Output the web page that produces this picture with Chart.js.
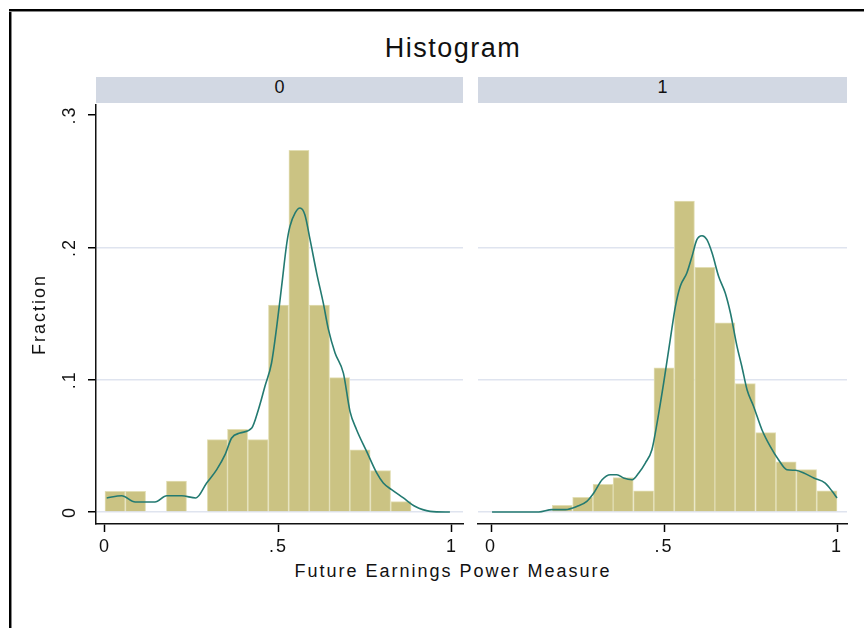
<!DOCTYPE html>
<html>
<meta charset="UTF-8">
<title>Histogram</title>
<style type="text/css">
	html,
	body {
		margin: 0px;
		width: 864px;
		height: 628px;
		background: #ffffff;
		overflow: hidden;
		font-family: "Liberation Sans", Arial, sans-serif;
		color: #111;
	}

	.frameL {
		position: absolute;
		left: 9px;
		top: 9px;
		width: 2px;
		height: 640px;
		background: #000;
		box-shadow: 1px 0 0 #888;
	}

	.frameT {
		position: absolute;
		left: 9px;
		top: 9px;
		width: 880px;
		height: 2px;
		background: #000;
		box-shadow: 0 1px 0 #888;
	}

	.title {
		position: absolute;
		left: 0px;
		width: 906px;
		top: 35px;
		font-size: 27px;
		line-height: 27px;
		letter-spacing: 1.5px;
		text-align: center;
	}

	.strip {
		position: absolute;
		top: 77px;
		height: 26px;
		background: #d2d8e3;
		font-size: 18px;
		line-height: 18px;
		text-align: center;
		box-sizing: border-box;
		padding-top: 1px;
	}

	.xtitle {
		position: absolute;
		left: 0px;
		width: 906px;
		top: 562px;
		font-size: 18px;
		line-height: 18px;
		letter-spacing: 2px;
		text-align: center;
	}

	canvas {
		position: absolute;
		top: 0px;
	}
</style>
<script src="https://cdn.jsdelivr.net/npm/chart.js"></script>

<body>
	<div class="frameL"></div>
	<div class="frameT"></div>
	<div class="title">Histogram</div>
	<div class="strip" style="left:96px;width:367px;">0</div>
	<div class="strip" style="left:478px;width:369px;">1</div>
	<div class="xtitle">Future Earnings Power Measure</div>

	<canvas id="left" width="470" height="628" style="left:0px"></canvas>
	<canvas id="right" width="394" height="628" style="left:470px"></canvas>

	<script>
		// panel labels
		var panels = ['0', '1'];

		// bin midpoints (bin width 1/17)
		var leftBins = [0.029, 0.088, 0.147, 0.206, 0.265, 0.324, 0.382, 0.441, 0.5, 0.559, 0.618, 0.676, 0.735, 0.794, 0.853];
		var leftFraction = [0.0156, 0.0156, 0, 0.0234, 0, 0.0547, 0.0625, 0.0547, 0.1563, 0.2734, 0.1563, 0.1016, 0.0469, 0.0313, 0.0078];

		var rightBins = [0.206, 0.265, 0.324, 0.382, 0.441, 0.5, 0.559, 0.618, 0.676, 0.735, 0.794, 0.853, 0.912, 0.971];
		var rightFraction = [0.005, 0.011, 0.021, 0.026, 0.016, 0.109, 0.235, 0.185, 0.143, 0.097, 0.06, 0.038, 0.032, 0.016];

		// kernel density curves
		var leftKdeX = [0.005, 0.048, 0.087, 0.144, 0.178, 0.221, 0.262, 0.293, 0.322, 0.346, 0.365, 0.389, 0.423, 0.442, 0.461, 0.48, 0.495, 0.509, 0.524, 0.533, 0.548, 0.562, 0.576, 0.591, 0.61, 0.629, 0.644, 0.663, 0.687, 0.706, 0.725, 0.754, 0.783, 0.802, 0.826, 0.86, 0.893, 0.937, 0.994];
		var leftKdeY = [0.0106, 0.0123, 0.0076, 0.0076, 0.0123, 0.0123, 0.0106, 0.0219, 0.032, 0.0433, 0.0559, 0.0597, 0.0635, 0.0773, 0.095, 0.1126, 0.1403, 0.1705, 0.2033, 0.2159, 0.226, 0.2297, 0.2247, 0.2058, 0.1806, 0.158, 0.1378, 0.1202, 0.105, 0.0761, 0.0622, 0.0458, 0.0295, 0.0219, 0.0169, 0.0106, 0.0043, 0.0005, 0];

		var rightKdeX = [0.003, 0.138, 0.176, 0.215, 0.249, 0.277, 0.297, 0.321, 0.345, 0.364, 0.383, 0.408, 0.427, 0.446, 0.465, 0.48, 0.499, 0.518, 0.533, 0.547, 0.566, 0.581, 0.595, 0.61, 0.624, 0.639, 0.658, 0.677, 0.692, 0.711, 0.725, 0.74, 0.759, 0.783, 0.807, 0.831, 0.855, 0.88, 0.904, 0.933, 0.966, 0.986, 1.0];
		var rightKdeY = [0, 0, 0.0018, 0.0018, 0.0043, 0.0081, 0.0144, 0.0244, 0.0282, 0.0282, 0.0257, 0.0244, 0.0295, 0.037, 0.0471, 0.0673, 0.0975, 0.1302, 0.1554, 0.1706, 0.1806, 0.1932, 0.2058, 0.2088, 0.2058, 0.1957, 0.178, 0.1655, 0.1504, 0.1252, 0.11, 0.0924, 0.0798, 0.0622, 0.0496, 0.0395, 0.032, 0.0315, 0.0295, 0.0257, 0.0219, 0.0156, 0.0106];

		var xTicks = [0, 0.5, 1];
		var xTickLabels = ['0', '.5', '1'];
		var yTicks = [0, 0.1, 0.2, 0.3];
		var yTickLabels = ['0', '.1', '.2', '.3'];
		var yTitle = 'Fraction';

		var barFill = '#cbc383';
		var barEdge = '#e2deb4';
		var kdeColor = '#237a71';
		var gridColor = '#dfe4ef';
		var fontFam = '"Liberation Sans", Arial, sans-serif';

		Chart.defaults.font.family = fontFam;
		Chart.defaults.color = '#111';

		var spacing = {
			id: 'spacing',
			beforeDraw: function (chart) {
				chart.ctx.letterSpacing = '2px';
			}
		};

		function pts(xs, ys) {
			var out = [];
			for (var i = 0; i < xs.length; i++) {
				out.push({ x: xs[i], y: ys[i] });
			}
			return out;
		}

		function makePanel(id, bins, fracs, kx, ky, showY, pad, xmin, xmax) {
			var yScale = {
				type: 'linear',
				min: -0.00907,
				max: 0.3076,
				afterBuildTicks: function (s) {
					s.ticks = yTicks.map(function (v) { return { value: v }; });
				},
				afterFit: function (s) {
					s.width = showY ? 96 : 0;
				},
				grid: {
					drawOnChartArea: true,
					drawTicks: showY,
					tickLength: 8,
					tickColor: '#000',
					tickWidth: 1.5,
					color: function (c) {
						return (c.tick && c.tick.value > 0.25) ? 'rgba(0,0,0,0)' : gridColor;
					},
					lineWidth: 1.5
				},
				border: { display: showY, color: '#111', width: 1.5 },
				ticks: {
					display: showY,
					minRotation: 90,
					maxRotation: 90,
					crossAlign: 'center',
					padding: 10,
					font: { size: 18 },
					color: '#111',
					callback: function (v, i) { return yTickLabels[i]; }
				},
				title: {
					display: showY,
					text: yTitle,
					font: { size: 18 },
					color: '#111',
					padding: { top: 29, bottom: 0 }
				}
			};

			return new Chart(document.getElementById(id), {
				data: {
					datasets: [
						{
							type: 'bar',
							data: pts(bins, fracs),
							backgroundColor: barFill,
							borderColor: barEdge,
							borderWidth: 1,
							categoryPercentage: 1,
							barPercentage: 1,
							order: 2
						},
						{
							type: 'line',
							data: pts(kx, ky),
							borderColor: kdeColor,
							borderWidth: 1.6,
							pointRadius: 0,
							fill: false,
							cubicInterpolationMode: 'monotone',
							order: 1
						}
					]
				},
				options: {
					responsive: false,
					animation: false,
					devicePixelRatio: 1,
					layout: { padding: pad },
					plugins: {
						legend: { display: false },
						tooltip: { enabled: false }
					},
					scales: {
						x: {
							type: 'linear',
							min: xmin,
							max: xmax,
							offset: false,
							afterBuildTicks: function (s) {
								s.ticks = xTicks.map(function (v) { return { value: v }; });
							},
							afterFit: function (s) {
								s.height = 104;
							},
							grid: {
								offset: false,
								drawOnChartArea: false,
								drawTicks: true,
								tickLength: 8,
								tickColor: '#000',
								tickWidth: 1.5
							},
							border: { color: '#111', width: 1.5 },
							ticks: {
								padding: 4,
								maxRotation: 0,
								autoSkip: false,
								font: { size: 18 },
								color: '#111',
								callback: function (v, i) { return xTickLabels[i]; }
							}
						},
						y: yScale
					}
				},
				plugins: [spacing]
			});
		}

		makePanel('left', leftBins, leftFraction, leftKdeX, leftKdeY, true,
			{ left: 0, top: 105, right: 7, bottom: 0 }, -0.0259, 1.0317);
		makePanel('right', rightBins, rightFraction, rightKdeX, rightKdeY, false,
			{ left: 8, top: 105, right: 17, bottom: 0 }, -0.0376, 1.0289);
	</script>
</body>

</html>
